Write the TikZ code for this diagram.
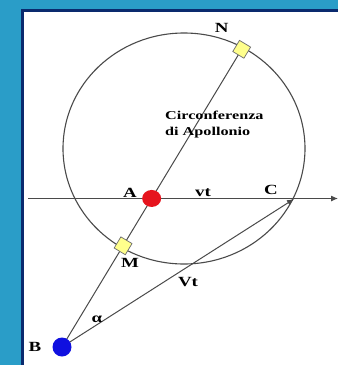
\documentclass[tikz,border=0pt]{standalone}
\usepackage{fontspec}
\newfontfamily\lab[FakeStretch=1.35]{Liberation Serif}
\usetikzlibrary{arrows.meta,shapes.geometric,calc}
\definecolor{bgblue}{HTML}{2A9DC8}
\definecolor{navyb}{HTML}{0A2A6E}
\definecolor{lingray}{HTML}{4A4A4A}
\definecolor{dotred}{HTML}{E6141E}
\definecolor{dotblue}{HTML}{1010E0}
\definecolor{sqyellow}{HTML}{FFFF8C}
\tikzset{
  geoline/.style={draw=lingray, line width=1pt},
  circline/.style={draw=lingray, line width=1.1pt},
  sqmark/.style={draw=lingray!80, fill=sqyellow, line width=0.7pt, minimum size=13pt, inner sep=0pt, rectangle},
  lbl/.style={font=\lab\bfseries\fontsize{14}{15}\selectfont, inner sep=0pt, text=black},
  smalllbl/.style={font=\lab\bfseries\fontsize{12}{13}\selectfont, inner sep=0pt, text=black},
  tip/.style={-{Latex[length=7pt,width=6pt]}}
}
\begin{document}
\begin{tikzpicture}[x=1pt,y=-1pt]
\useasboundingbox (0,0) rectangle (338,365);
\fill[bgblue] (0,0) rectangle (338,365);
\begin{scope}
  \clip (0,0) rectangle (338,365);
  \draw[navyb, line width=2.6pt, fill=white] (22.7,10.5) rectangle (360,385);
\end{scope}

% Apollonius circle
\node[circline, ellipse, minimum width=242pt, minimum height=231pt, inner sep=0pt] (apoll) at (184,148.5) {};

% points
\coordinate (B) at (62,347);
\coordinate (N) at (241.7,49.3);
\coordinate (A) at ($(B)!0.499!(N)$);
\coordinate (M) at ($(B)!0.34!(N)$);
\coordinate (C) at (294,199);
\coordinate (L) at (28,198.5);
\coordinate (R) at (338,198.5);

% lines
\draw[geoline, tip] (L) -- (R);
\draw[geoline] (B) -- (N);
\draw[geoline, tip] (B) -- (C);

% markers
\node[sqmark, rotate=59] (Nsq) at (N) {};
\node[sqmark, rotate=59] (Msq) at (M) {};
\node[ellipse, fill=dotred, minimum width=19pt, minimum height=17pt, inner sep=0pt] (Adot) at (A) {};
\node[circle, fill=dotblue, minimum size=19pt, inner sep=0pt] (Bdot) at (B) {};

% labels
\node[lbl] (labN) at (221.7,27.7) {N};
\node[lbl] (labA) at (130,193) {A};
\node[lbl] (labvt) at (203,193) {vt};
\node[lbl] (labC) at (271,190) {C};
\node[lbl] (labM) at (130,263) {M};
\node[lbl] (labVt) at (188,282) {Vt};
\node[lbl] (labal) at (97,319) {α};
\node[lbl] (labB) at (35,347) {B};
\node[smalllbl, anchor=west] (t1) at (165,115) {Circonferenza};
\node[smalllbl, anchor=west] (t2) at (165,133) {di Apollonio};
\end{tikzpicture}
\end{document}
